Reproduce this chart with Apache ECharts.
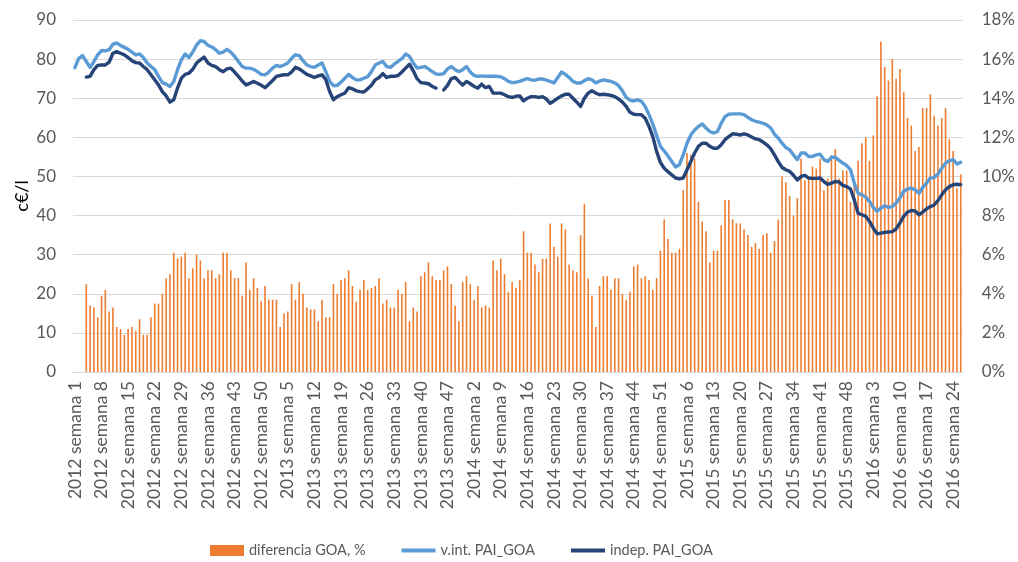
<!DOCTYPE html>
<html>
<head>
<meta charset="utf-8">
<script src="https://cdn.jsdelivr.net/npm/echarts@6/dist/echarts.min.js"></script>
<style>
  html, body { margin: 0; padding: 0; background: #fff; }
  #chart { width: 1018px; height: 562px; }
</style>
</head>
<body>
<div id="chart"></div>
<script>
// weeks per year shown on the axis
var years = [2012, 2013, 2014, 2015, 2016];
var weeksPerYear = [52, 52, 52, 52, 26];

var categories = [];
for (var y = 0; y < years.length; y++) {
  for (var w = 1; w <= weeksPerYear[y]; w++) {
    categories.push(years[y] + ' semana ' + w);
  }
}

// diferencia GOA, % (right axis)
var diferencia = [
  null, null, null, 4.5, 3.4, 3.3, 2.8, 3.9, 4.2, 3.1,
  3.3, 2.3, 2.2, 1.9, 2.2, 2.3, 2.1, 2.7, 1.9, 1.9,
  2.8, 3.5, 3.5, 4.0, 4.8, 5.0, 6.1, 5.8, 5.9, 6.1,
  4.8, 5.3, 6.0, 5.7, 4.8, 5.2, 5.2, 4.8, 5.0, 6.1,
  6.1, 5.2, 4.8, 4.8, 3.9, 5.6, 4.2, 4.8, 4.3, 3.6,
  4.4, 3.7, 3.7, 3.7, 2.3, 3.0, 3.1, 4.5, 3.7, 4.6,
  4.0, 3.3, 3.2, 3.2, 2.6, 3.7, 2.8, 2.8, 4.5, 4.0,
  4.7, 4.8, 5.2, 4.4, 3.6, 4.2, 4.7, 4.2, 4.3, 4.4,
  4.8, 3.5, 3.7, 3.3, 3.3, 4.2, 4.0, 4.6, 2.6, 3.3,
  3.1, 4.9, 5.1, 5.6, 4.9, 4.7, 4.7, 5.2, 5.4, 4.5,
  3.4, 2.6, 4.6, 4.9, 4.5, 3.7, 4.4, 3.3, 3.4, 3.3,
  5.7, 5.2, 5.8, 5.0, 4.1, 4.6, 4.3, 4.7, 7.2, 6.1,
  6.1, 5.5, 5.1, 5.8, 5.8, 7.6, 6.4, 5.9, 7.6, 7.3,
  5.5, 5.2, 5.1, 7.0, 8.6, 4.8, 3.9, 2.3, 4.4, 4.9,
  4.9, 4.2, 4.8, 4.8, 4.0, 3.7, 4.1, 5.4, 5.5, 4.8,
  4.9, 4.7, 4.2, 4.8, 6.2, 7.8, 6.8, 6.1, 6.1, 6.3,
  9.3, 11.2, 11.1, 10.9, 8.7, 7.7, 7.2, 5.6, 6.2, 6.2,
  7.5, 8.8, 8.8, 7.8, 7.6, 7.6, 7.3, 7.0, 6.4, 6.6,
  6.3, 7.0, 7.1, 6.1, 6.7, 7.8, 10.0, 9.7, 9.0, 8.0,
  8.9, 10.9, 9.8, 9.9, 10.5, 10.4, 10.9, 9.3, 9.9, 11.1,
  11.4, 9.9, 10.3, 10.3, 8.7, 9.6, 10.8, 11.7, 12.0, 10.8,
  12.1, 14.1, 16.9, 15.6, 14.9, 16.0, 15.0, 15.5, 14.3, 13.0,
  12.6, 11.3, 11.5, 13.5, 13.5, 14.2, 13.1, 12.6, 13.0, 13.5,
  11.9, 11.3, 9.4, 10.1
];

// v.int. PAI_GOA, c€/l
var vint = [
  77.8, 80.2, 80.9, 79.4, 77.9, 79.4, 81.1, 82.2, 82.1, 82.4,
  83.8, 84.1, 83.5, 83.0, 82.5, 81.8, 81.1, 81.3, 80.4, 79.0,
  78.1, 77.3, 75.6, 74.0, 73.6, 73.0, 74.3, 77.3, 79.8, 81.3,
  80.4, 81.8, 83.6, 84.7, 84.5, 83.5, 83.1, 82.4, 81.5, 81.8,
  82.5, 81.8, 80.7, 79.4, 78.1, 77.7, 77.7, 77.4, 76.8, 76.1,
  76.0, 76.7, 77.7, 78.4, 78.1, 78.5, 79.0, 80.2, 81.1, 80.9,
  79.6, 78.5, 78.1, 77.9, 78.5, 79.0, 76.8, 74.3, 73.2, 73.3,
  74.1, 75.1, 76.1, 75.3, 74.7, 74.7, 75.1, 75.5, 76.8, 78.5,
  79.0, 79.4, 78.1, 77.9, 78.7, 79.4, 80.1, 81.3, 80.7, 79.0,
  77.7, 77.9, 78.1, 77.5, 76.8, 76.2, 76.1, 76.3, 77.5, 78.1,
  77.3, 76.8, 77.3, 78.1, 76.7, 75.8, 75.6, 75.7, 75.6, 75.6,
  75.6, 75.6, 75.5, 75.0, 74.3, 74.0, 74.1, 74.3, 74.7, 75.0,
  74.7, 74.6, 74.9, 74.9, 74.6, 74.3, 73.9, 75.3, 76.7, 76.1,
  75.3, 74.3, 73.9, 73.9, 74.5, 75.0, 74.7, 73.9, 74.4, 74.7,
  74.5, 74.3, 73.9, 73.2, 71.9, 70.2, 69.5, 69.3, 69.6, 69.2,
  67.9, 65.8, 63.4, 60.5, 57.7, 56.5, 55.2, 53.8, 52.4, 53.0,
  55.5, 58.5, 60.6, 61.9, 62.8, 63.4, 62.4, 61.5, 61.1, 61.5,
  63.6, 65.3, 65.9, 66.0, 66.0, 66.0, 65.8, 65.1, 64.5, 64.1,
  63.9, 63.6, 63.2, 62.4, 60.8, 59.8, 58.5, 57.4, 56.8, 55.5,
  54.3, 56.0, 56.0, 55.1, 55.1, 55.5, 55.7, 54.3, 53.8, 54.9,
  54.9, 54.1, 53.4, 52.8, 51.7, 48.3, 45.7, 45.3, 44.7, 43.6,
  42.1, 41.1, 41.9, 42.5, 42.1, 42.3, 43.2, 44.5, 46.2, 46.8,
  47.0, 46.6, 45.7, 47.2, 48.3, 49.6, 49.7, 50.6, 52.1, 53.4,
  54.0, 54.3, 53.2, 53.6
];

// indep. PAI_GOA, c€/l
var indep = [
  null, null, null, 75.4, 75.6, 77.3, 78.4, 78.5, 78.5, 79.2,
  81.5, 81.9, 81.5, 81.1, 80.4, 79.6, 79.1, 79.0, 78.1, 77.3,
  76.0, 74.7, 73.4, 71.7, 70.6, 69.0, 69.6, 72.6, 75.1, 76.1,
  76.4, 77.4, 79.0, 79.8, 80.5, 79.0, 78.4, 78.1, 77.3, 76.8,
  77.5, 77.7, 76.7, 75.6, 74.4, 73.4, 73.8, 74.3, 73.8, 73.3,
  72.7, 73.6, 74.5, 75.6, 75.8, 76.0, 76.0, 76.7, 77.9, 77.5,
  76.8, 76.1, 75.7, 75.3, 75.7, 76.0, 74.7, 71.7, 69.6, 70.4,
  70.9, 71.3, 72.7, 72.4, 71.9, 71.7, 71.6, 72.4, 73.3, 74.7,
  75.3, 76.3, 75.3, 75.6, 75.6, 75.8, 76.7, 77.7, 78.7, 77.0,
  75.0, 74.0, 73.9, 73.7, 73.0, 72.6, null, 72.1, 73.3, 75.0,
  75.3, 74.3, 73.4, 74.3, 73.7, 73.0, 72.6, 73.6, 72.7, 73.0,
  71.3, 71.3, 71.3, 70.9, 70.4, 70.2, 70.5, 70.6, 69.3, 70.0,
  70.4, 70.4, 70.2, 70.4, 69.8, 68.7, 69.3, 70.0, 70.6, 71.0,
  71.0, 70.0, 69.0, 67.9, 70.0, 71.3, 71.9, 71.3, 70.9, 71.0,
  70.9, 70.7, 70.4, 69.8, 69.0, 67.9, 66.4, 65.9, 65.8, 65.8,
  64.9, 62.8, 60.2, 56.4, 53.6, 52.1, 51.2, 50.4, 49.6, 49.4,
  49.6, 51.7, 53.8, 56.0, 57.7, 58.5, 58.5, 57.7, 57.2, 57.2,
  58.1, 59.4, 60.2, 60.9, 60.8, 60.6, 60.9, 60.6, 60.1, 59.6,
  59.4, 58.8, 58.1, 57.1, 55.5, 53.8, 52.3, 51.7, 51.3, 50.3,
  49.1, 50.0, 50.3, 49.6, 49.5, 49.5, 49.6, 48.7, 48.0, 48.3,
  48.7, 48.6, 47.7, 47.4, 46.8, 44.0, 40.6, 40.2, 39.8, 38.5,
  36.8, 35.3, 35.5, 35.7, 35.8, 35.9, 36.6, 38.1, 39.8, 40.9,
  41.3, 41.2, 40.2, 40.9, 41.7, 42.3, 42.7, 43.8, 45.3, 46.6,
  47.4, 47.9, 48.0, 47.9
];

var textColor = '#595959';
var gridColor = '#d9d9d9';
var font = 'Lato, "Open Sans", sans-serif';
// thin line icon for the legend (tiny corner specks keep the box 34x12)
var lineIcon = 'path://M0,0L0.01,0L0,0.01Z M0,4L34,4L34,8L0,8Z M34,12L33.99,12L34,11.99Z';

var chart = echarts.init(document.getElementById('chart'), null, { renderer: 'canvas' });

chart.setOption({
  animation: false,
  textStyle: { fontFamily: font },
  grid: { left: 73, right: 55, top: 20, bottom: 190 },
  legend: {
    top: 543,
    left: 210,
    padding: 0,
    itemWidth: 34,
    itemHeight: 12,
    itemGap: 36,
    textStyle: { color: textColor, fontSize: 14.5, fontFamily: font },
    data: [
      { name: 'diferencia GOA, %', icon: 'path://M0,0.5L34,0.5L34,11.5L0,11.5Z' },
      { name: 'v.int. PAI_GOA', icon: lineIcon },
      { name: 'indep. PAI_GOA', icon: lineIcon }
    ]
  },
  xAxis: {
    type: 'category',
    data: categories,
    boundaryGap: true,
    axisLine: { lineStyle: { color: gridColor } },
    axisTick: { show: false },
    axisLabel: {
      interval: 6,
      rotate: 90,
      color: textColor,
      fontSize: 17.5,
      margin: 9
    }
  },
  yAxis: [
    {
      type: 'value',
      min: 0,
      max: 90,
      interval: 10,
      name: 'c€/l',
      nameLocation: 'middle',
      nameRotate: 90,
      nameGap: 42,
      nameMoveOverlap: false,
      nameTextStyle: { color: '#000', fontSize: 18 },
      axisLine: { show: false },
      axisTick: { show: false },
      axisLabel: { color: textColor, fontSize: 17, margin: 17 },
      splitLine: { lineStyle: { color: gridColor, width: 1 } }
    },
    {
      type: 'value',
      min: 0,
      max: 18,
      interval: 2,
      position: 'right',
      axisLine: { show: false },
      axisTick: { show: false },
      axisLabel: { color: textColor, fontSize: 17, margin: 19, formatter: '{value}%' },
      splitLine: { show: false }
    }
  ],
  series: [
    {
      name: 'diferencia GOA, %',
      type: 'bar',
      yAxisIndex: 1,
      data: diferencia,
      barWidth: 1.6,
      itemStyle: { color: '#ED7D31' }
    },
    {
      name: 'v.int. PAI_GOA',
      type: 'line',
      data: vint,
      symbol: 'none',
      connectNulls: false,
      lineStyle: { color: '#5B9BD5', width: 3.4, cap: 'round', join: 'round' },
      itemStyle: { color: '#5B9BD5' }
    },
    {
      name: 'indep. PAI_GOA',
      type: 'line',
      data: indep,
      symbol: 'none',
      connectNulls: false,
      lineStyle: { color: '#264478', width: 3.4, cap: 'round', join: 'round' },
      itemStyle: { color: '#264478' }
    }
  ]
});
</script>
</body>
</html>
